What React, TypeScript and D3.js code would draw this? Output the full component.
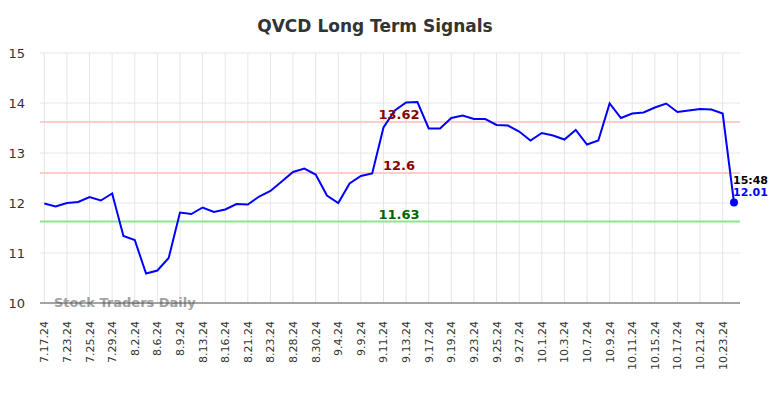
import React, { useEffect, useRef } from 'react';
import * as d3 from 'd3';

const dates = [
  '7.17.24', '7.22.24', '7.23.24', '7.24.24', '7.25.24', '7.26.24', '7.29.24', '8.1.24', '8.2.24', '8.5.24',
  '8.6.24', '8.8.24', '8.9.24', '8.12.24', '8.13.24', '8.15.24', '8.16.24', '8.20.24', '8.21.24', '8.22.24',
  '8.23.24', '8.27.24', '8.28.24', '8.29.24', '8.30.24', '9.3.24', '9.4.24', '9.6.24', '9.9.24', '9.10.24',
  '9.11.24', '9.12.24', '9.13.24', '9.16.24', '9.17.24', '9.18.24', '9.19.24', '9.20.24', '9.23.24', '9.24.24',
  '9.25.24', '9.26.24', '9.27.24', '9.30.24', '10.1.24', '10.2.24', '10.3.24', '10.4.24', '10.7.24', '10.8.24',
  '10.9.24', '10.10.24', '10.11.24', '10.14.24', '10.15.24', '10.16.24', '10.17.24', '10.18.24', '10.21.24', '10.22.24',
  '10.23.24', '10.24.24',
];

const prices = [
  11.99, 11.93, 12.0, 12.02, 12.12, 12.05, 12.19, 11.34, 11.26, 10.59,
  10.65, 10.9, 11.81, 11.78, 11.91, 11.82, 11.87, 11.98, 11.97, 12.13,
  12.24, 12.43, 12.62, 12.69, 12.57, 12.15, 12.0, 12.39, 12.54, 12.59,
  13.51, 13.85, 14.01, 14.02, 13.49, 13.49, 13.7, 13.75, 13.68, 13.68,
  13.56, 13.55, 13.43, 13.25, 13.4, 13.35, 13.27, 13.46, 13.17, 13.25,
  13.99, 13.7, 13.79, 13.81, 13.91, 13.99, 13.82, 13.85, 13.88, 13.87,
  13.79, 12.01,
];

const yTicks = [10, 11, 12, 13, 14, 15];
const signalValues = [13.62, 12.6, 11.63];
const signalLabels = ['13.62', '12.6', '11.63'];
const lastTime = '15:48';

export default function App() {
  const ref = useRef<SVGSVGElement>(null);

  useEffect(() => {
    const svg = d3.select(ref.current);
    svg.selectAll('*').remove();

    const left = 40, right = 740, top = 53, bottom = 303;
    const x = d3.scalePoint<string>().domain(dates).range([44.3, 734]);
    const y = d3.scaleLinear().domain([10, 15]).range([bottom, top]);

    // title
    svg.append('text')
      .attr('x', 375).attr('y', 32)
      .attr('text-anchor', 'middle')
      .style('font', 'bold 17px "DejaVu Sans", sans-serif')
      .style('fill', '#333')
      .text('QVCD Long Term Signals');

    // grid
    const grid = svg.append('g');
    grid.selectAll('line.h').data(yTicks).enter().append('line')
      .attr('x1', left).attr('x2', right)
      .attr('y1', d => y(d)).attr('y2', d => y(d))
      .style('stroke', '#e6e6e6').style('stroke-width', 1);
    const labelled = dates.filter((d, i) => i % 2 === 0);
    grid.selectAll('line.v').data(labelled).enter().append('line')
      .attr('x1', d => x(d)!).attr('x2', d => x(d)!)
      .attr('y1', top).attr('y2', bottom)
      .style('stroke', '#e6e6e6').style('stroke-width', 1);

    // y labels
    svg.append('g').selectAll('text').data(yTicks).enter().append('text')
      .attr('x', 25).attr('y', d => y(d) + 5)
      .attr('text-anchor', 'end')
      .style('font', '13px "DejaVu Sans", sans-serif')
      .style('fill', '#333')
      .text(d => d);

    // x labels
    svg.append('g').selectAll('text').data(labelled).enter().append('text')
      .attr('transform', d => `translate(${x(d)! + 4},321) rotate(-90)`)
      .attr('text-anchor', 'end')
      .style('font', '11px "DejaVu Sans", sans-serif')
      .style('fill', '#333')
      .text(d => d);

    // signal lines
    const colors = ['#ffcccc', '#ffcccc', '#90e390'];
    const textColors = ['#8b0000', '#8b0000', '#006400'];
    signalValues.forEach((v, i) => {
      svg.append('line')
        .attr('x1', left).attr('x2', right)
        .attr('y1', y(v)).attr('y2', y(v))
        .style('stroke', colors[i]).style('stroke-width', 2);
    });

    // watermark
    svg.append('text')
      .attr('x', 54).attr('y', 307)
      .style('font', 'bold 13px "DejaVu Sans", sans-serif')
      .style('fill', '#999')
      .style('opacity', 0.9)
      .text('Stock Traders Daily');

    // axis line
    svg.append('line')
      .attr('x1', left).attr('x2', right)
      .attr('y1', bottom).attr('y2', bottom)
      .style('stroke', '#555').style('stroke-width', 1);

    // price line
    const line = d3.line<number>()
      .x((d, i) => x(dates[i])!)
      .y(d => y(d));
    svg.append('path')
      .datum(prices)
      .attr('d', line)
      .style('fill', 'none')
      .style('stroke', '#0000ff')
      .style('stroke-width', 2);

    signalValues.forEach((v, i) => {
      svg.append('text')
        .attr('x', 399).attr('y', y(v) - 3)
        .attr('text-anchor', 'middle')
        .style('font', 'bold 13px "DejaVu Sans", sans-serif')
        .style('fill', textColors[i])
        .text(signalLabels[i]);
    });

    // last point
    const lastDate = dates[dates.length - 1];
    const lastVal = prices[prices.length - 1];
    svg.append('circle')
      .attr('cx', x(lastDate)!).attr('cy', y(lastVal))
      .attr('r', 4).style('fill', '#0000ff');
    svg.append('text')
      .attr('x', x(lastDate)! - 1).attr('y', y(lastVal) - 19)
      .style('font', 'bold 11px "DejaVu Sans", sans-serif')
      .style('fill', '#000')
      .text(lastTime);
    svg.append('text')
      .attr('x', x(lastDate)! - 1).attr('y', y(lastVal) - 7)
      .style('font', 'bold 11px "DejaVu Sans", sans-serif')
      .style('fill', '#0000ff')
      .text(lastVal.toFixed(2));
  }, []);

  return (
    <svg
      ref={ref}
      width={784}
      height={398}
      style={{ position: 'absolute', left: 0, top: 0, background: '#fff' }}
    />
  );
}
